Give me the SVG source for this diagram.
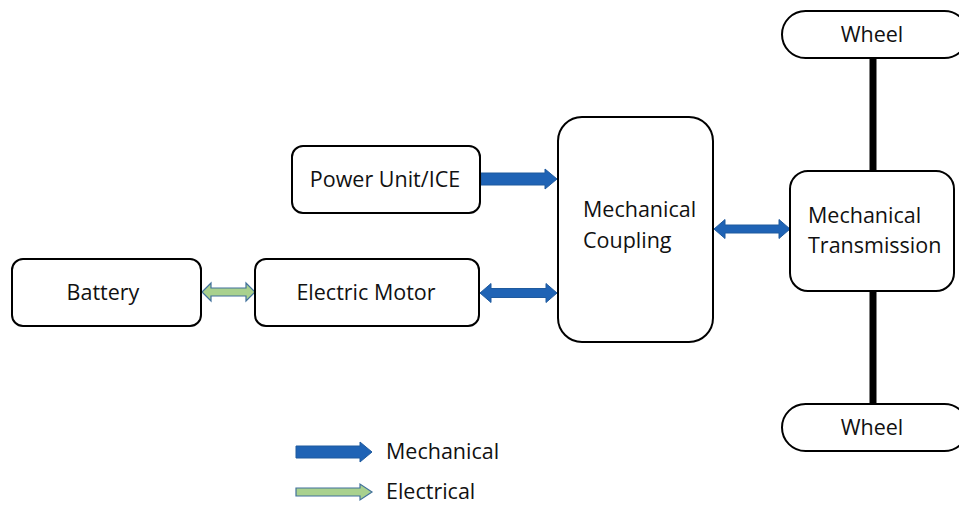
<svg xmlns="http://www.w3.org/2000/svg" width="959" height="505" viewBox="0 0 959 505">
<style>
.box{fill:#fff;stroke:#000;stroke-width:2}
.t{font-family:"Open Sans","Liberation Sans",sans-serif;font-size:21.5px;fill:#111}
.mech{fill:#1F63B5;stroke:#1F5A9E;stroke-width:1}
.elec{fill:#A9D18E;stroke:#41719C;stroke-width:1.2}
.shaft{stroke:#000;stroke-width:7}
</style>
<rect width="959" height="505" fill="#fff"/>
<g id="connectors">
<line class="shaft" x1="873" y1="58" x2="873" y2="172"/>
<line class="shaft" x1="873" y1="290" x2="873" y2="404"/>
<path class="mech" d="M481 173 H545 V169 L557 179 L545 189 V185 H481 Z"/>
<path class="mech" d="M480 293 L491 283.5 V288.5 H546 V283.5 L557 293 L546 302.5 V297.5 H491 V302.5 Z"/>
<path class="mech" d="M714 229 L725 219.5 V225 H779 V219.5 L790 229 L779 238.5 V233 H725 V238.5 Z"/>
<path class="elec" d="M202 292 L211 283 V288 H246 V283 L255 292 L246 301 V296 H211 V301 Z"/>
</g>
<g id="battery"><rect class="box" x="12" y="259" width="189" height="67" rx="11"/><text class="t" x="103" y="300" text-anchor="middle">Battery</text></g>
<g id="motor"><rect class="box" x="255" y="259" width="224" height="67" rx="11"/><text class="t" x="366" y="300" text-anchor="middle">Electric Motor</text></g>
<g id="ice"><rect class="box" x="292" y="146" width="188" height="67" rx="11"/><text class="t" x="385" y="187" text-anchor="middle">Power Unit/ICE</text></g>
<g id="coupling"><rect class="box" x="558" y="117" width="155" height="225" rx="24"/><text class="t" x="583" y="217">Mechanical</text><text class="t" x="583" y="248">Coupling</text></g>
<g id="transmission"><rect class="box" x="790" y="171" width="164" height="120" rx="18"/><text class="t" x="808" y="223">Mechanical</text><text class="t" x="808" y="253">Transmission</text></g>
<g id="wheel-top"><rect class="box" x="782" y="11" width="186" height="47" rx="23.5"/><text class="t" x="872" y="42" text-anchor="middle">Wheel</text></g>
<g id="wheel-bottom"><rect class="box" x="782" y="404" width="186" height="47" rx="23.5"/><text class="t" x="872" y="435" text-anchor="middle">Wheel</text></g>
<g id="legend">
<path class="mech" d="M296 446 H360 V442 L372 452 L360 462 V458 H296 Z"/>
<text class="t" x="386" y="459">Mechanical</text>
<path class="elec" d="M296 488 H360 V484 L372 492 L360 500 V496 H296 Z"/>
<text class="t" x="386" y="499">Electrical</text>
</g>
</svg>
